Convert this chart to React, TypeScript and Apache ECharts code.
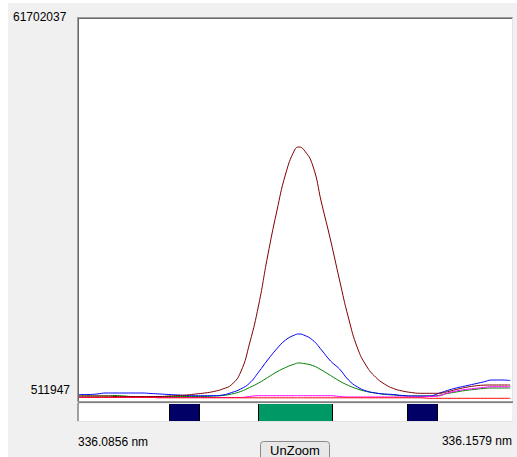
import React, { useEffect, useRef } from "react";
import * as echarts from "echarts";

// x axis: wavelength (nm), evenly sampled plus the peak position
const X_START = 336.0856;
const X_END = 336.1579;
const X_STEP = 0.0015;
const PEAK_X = 336.1223;
const grid: number[] = Array.from({ length: 49 }, (_, i) => +(X_START + i * X_STEP).toFixed(4));
const wavelengths: number[] = [...grid.slice(0, 25), PEAK_X, ...grid.slice(25)];

const Y_MIN = 511947;
const Y_MAX = 61702037;

// series values (counts), in thousands
const darkRedK = [1154, 1154, 1154, 1154, 1074, 1074, 1074, 1074, 1074, 1074, 1154, 1235, 1315, 1476, 1636, 1877, 2279, 3002, 5009, 9666, 15769, 23638, 30705, 36808, 40662, 41144, 40742, 38253, 32150, 26208, 19784, 13681, 8863, 5972, 4206, 3082, 2359, 1957, 1717, 1588, 1588, 1588, 1845, 2198, 2520, 2760, 2889, 2921, 2921, 2921];
const blueK = [1395, 1395, 1476, 1636, 1636, 1636, 1636, 1636, 1556, 1476, 1395, 1315, 1235, 1203, 1203, 1203, 1315, 1717, 2279, 3242, 5009, 6936, 8703, 10148, 10951, 11112, 10951, 10148, 8542, 6775, 5491, 3724, 2600, 1957, 1636, 1476, 1395, 1235, 1154, 1154, 1154, 1556, 2038, 2439, 2760, 3082, 3403, 3724, 3724, 3644];
const greenK = [1154, 1154, 1154, 1154, 1235, 1154, 1074, 1074, 1074, 1074, 1074, 1074, 1074, 1074, 1074, 1154, 1235, 1476, 1877, 2520, 3242, 4125, 5009, 5732, 6294, 6454, 6374, 6053, 5330, 4447, 3563, 2841, 2279, 1877, 1636, 1427, 1315, 1203, 1154, 1154, 1154, 1235, 1556, 1797, 2038, 2198, 2359, 2439, 2439, 2439];
const magentaK = [914, 914, 914, 914, 914, 914, 914, 914, 914, 914, 914, 914, 914, 914, 914, 914, 914, 914, 914, 1074, 1203, 1203, 1203, 1203, 1203, 1203, 1203, 1203, 1203, 1203, 1074, 994, 994, 994, 994, 994, 994, 994, 994, 994, 1074, 1154, 1636, 1957, 2198, 2359, 2520, 2648, 2648, 2648];
const redK = [946, 946, 946, 946, 946, 946, 946, 946, 946, 865, 865, 865, 865, 865, 865, 865, 865, 865, 865, 865, 865, 865, 865, 865, 865, 865, 865, 865, 865, 865, 865, 865, 865, 865, 865, 865, 865, 865, 865, 865, 785, 785, 785, 785, 785, 785, 785, 785, 785, 785];

const seriesDefs = [
  { name: "green", color: "#008000", values: greenK },
  { name: "blue", color: "#0000ff", values: blueK },
  { name: "darkred", color: "#800000", values: darkRedK },
  { name: "magenta", color: "#ff00ff", values: magentaK },
  { name: "red", color: "#ff0000", values: redK },
];

// bands below the plot: [start nm, end nm]
const bands: [number, number][] = [
  [336.1006, 336.1058],
  [336.1155, 336.128],
  [336.1404, 336.1455],
];
const bandColors = ["#000066", "#009966", "#000066"];

const yTopLabel = "61702037";
const yBottomLabel = "511947";
const xLeftLabel = "336.0856 nm";
const xRightLabel = "336.1579 nm";
const buttonLabel = "UnZoom";

const FONT = "Liberation Sans, Arial, sans-serif";

export default function App() {
  const ref = useRef<HTMLDivElement>(null);
  useEffect(() => {
    if (!ref.current) return;
    const chart = echarts.init(ref.current, undefined, { renderer: "svg" });
    const GL = 79, GR = 5, GT = 19, GH = 381;
    const BT = 404, BH = 17;
    chart.setOption({
      animation: false,
      backgroundColor: "#ffffff",
      grid: [
        { left: GL, right: GR, top: GT, height: GH, show: false },
        { left: GL, right: GR, top: BT, height: BH, show: false },
      ],
      xAxis: [
        { type: "value", min: X_START, max: X_END, show: false, gridIndex: 0 },
        { type: "value", min: X_START, max: X_END, show: false, gridIndex: 1 },
      ],
      yAxis: [
        { type: "value", min: Y_MIN, max: Y_MAX, show: false, gridIndex: 0 },
        { type: "value", min: 0, max: 1, show: false, gridIndex: 1 },
      ],
      graphic: [
        { type: "rect", z: -10, shape: { x: 8, y: 3, width: 509, height: 454 }, style: { fill: "#f0f0f0" }, silent: true },
        { type: "rect", z: -5, shape: { x: 79, y: 19, width: 433, height: 382 }, style: { fill: "#ffffff" }, silent: true },
        { type: "rect", z: -5, shape: { x: 79, y: 404, width: 433, height: 17 }, style: { fill: "#ffffff" }, silent: true },
        // sunken frame of plot
        { type: "rect", z: -4, shape: { x: 77, y: 17, width: 436, height: 1 }, style: { fill: "#a0a0a0" }, silent: true },
        { type: "rect", z: -4, shape: { x: 78, y: 18, width: 434, height: 1 }, style: { fill: "#696969" }, silent: true },
        { type: "rect", z: -4, shape: { x: 77, y: 17, width: 1, height: 384 }, style: { fill: "#a0a0a0" }, silent: true },
        { type: "rect", z: -4, shape: { x: 78, y: 18, width: 1, height: 383 }, style: { fill: "#696969" }, silent: true },
        { type: "rect", z: -4, shape: { x: 512, y: 18, width: 1, height: 384 }, style: { fill: "#e3e3e3" }, silent: true },
        // separator
        { type: "rect", z: -4, shape: { x: 77, y: 401, width: 436, height: 1 }, style: { fill: "#a0a0a0" }, silent: true },
        { type: "rect", z: -4, shape: { x: 78, y: 402, width: 435, height: 1 }, style: { fill: "#808080" }, silent: true },
        // band frame
        { type: "rect", z: -4, shape: { x: 77, y: 403, width: 2, height: 19 }, style: { fill: "#a0a0a0" }, silent: true },
        { type: "rect", z: -4, shape: { x: 77, y: 421, width: 436, height: 1 }, style: { fill: "#e3e3e3" }, silent: true },
        // labels
        { type: "text", left: 13, top: 11, style: { text: yTopLabel, font: `12px ${FONT}`, fill: "#000" } },
        { type: "text", right: 517 - 70, top: 384, style: { text: yBottomLabel, font: `12px ${FONT}`, fill: "#000", textAlign: "right" } },
        { type: "text", left: 78, top: 436, style: { text: xLeftLabel, font: `12px ${FONT}`, fill: "#000" } },
        { type: "text", right: 5, top: 435, style: { text: xRightLabel, font: `12px ${FONT}`, fill: "#000", textAlign: "right" } },
        // button
        {
          type: "rect",
          shape: { x: 260.5, y: 441.5, width: 69, height: 24, r: 3 },
          style: { fill: "#e8e8e8", stroke: "#8a8a8a", lineWidth: 1 },
          silent: true,
        },
        {
          type: "text",
          x: 295,
          y: 450,
          style: { text: buttonLabel, font: `13px ${FONT}`, fill: "#000", textAlign: "center", textVerticalAlign: "middle" },
        },
      ],
      series: [
        ...seriesDefs.map((s) => ({
          name: s.name,
          type: "line",
          xAxisIndex: 0,
          yAxisIndex: 0,
          data: wavelengths.map((w, i) => [w, s.values[i] * 1000]),
          smooth: 0.5,
          symbol: "none",
          lineStyle: { color: s.color, width: 1 },
          itemStyle: { color: s.color },
          z: 3,
        })),
        {
          type: "custom",
          xAxisIndex: 1,
          yAxisIndex: 1,
          data: bands.map((b) => [b[0], b[1]]),
          renderItem: (params: any, api: any) => {
            const s = api.coord([api.value(0), 1]);
            const e = api.coord([api.value(1), 0]);
            const x0 = Math.round(s[0]);
            const x1 = Math.round(e[0]);
            const y0 = s[1];
            const h = e[1] - s[1];
            const color = bandColors[params.dataIndex];
            return {
              type: "group",
              children: [
                { type: "rect", shape: { x: x0, y: y0, width: x1 - x0, height: h }, style: { fill: color } },
                { type: "rect", shape: { x: x0, y: y0, width: 1, height: h }, style: { fill: "#000" } },
                { type: "rect", shape: { x: x1 - 1, y: y0, width: 1, height: h }, style: { fill: "#000" } },
              ],
            };
          },
          z: 3,
        },
      ],
    });
    return () => chart.dispose();
  }, []);
  return (
    <div
      ref={ref}
      style={{ position: "absolute", left: 0, top: 0, width: 517, height: 457 }}
    />
  );
}
